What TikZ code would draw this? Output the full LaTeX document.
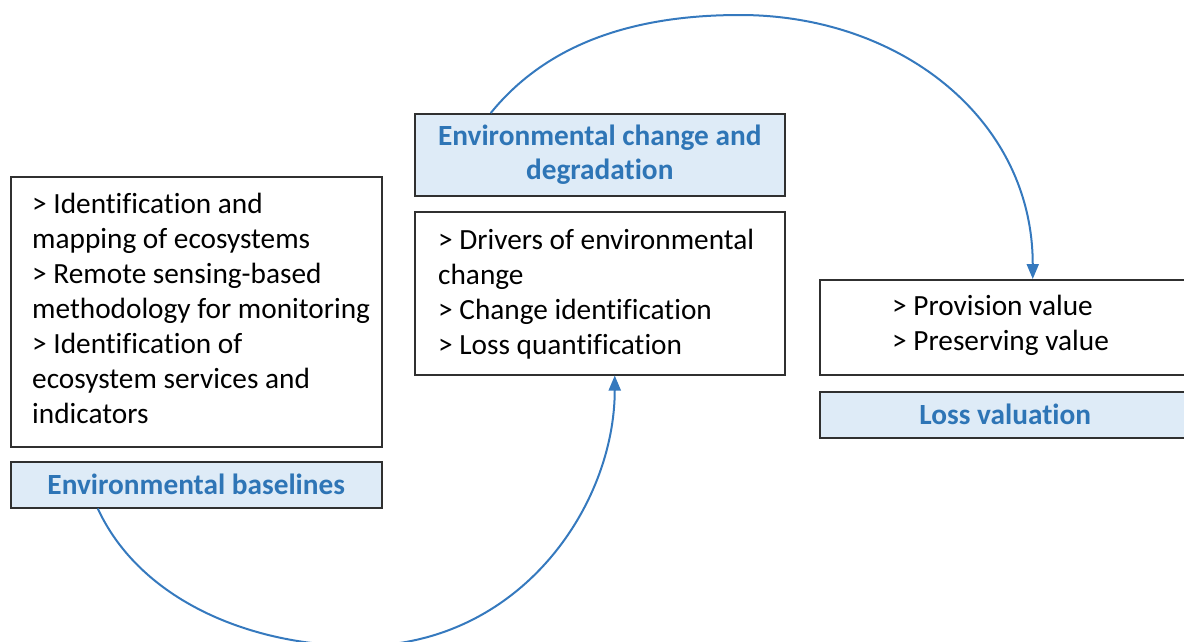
\documentclass[tikz,border=0pt]{standalone}
\usepackage{fontspec}
\setmainfont{Carlito}[Ligatures=NoCommon]
\usetikzlibrary{arrows.meta,calc}
\definecolor{hdrblue}{HTML}{2E75B6}
\definecolor{hdrfill}{HTML}{DEEBF7}
\definecolor{arcblue}{HTML}{3579BE}
\definecolor{edge}{HTML}{303030}
\begin{document}
\begin{tikzpicture}[x=1pt,y=-1pt,
  box/.style={draw=edge,line width=1.5pt,fill=white,anchor=north west,inner sep=0pt},
  hdr/.style={draw=edge,line width=1.5pt,fill=hdrfill,anchor=north west,inner sep=0pt,
    text=hdrblue,font=\fontsize{29.3}{34}\selectfont\bfseries,align=center},
  body/.style={anchor=north west,inner sep=0pt,align=left,font=\fontsize{29.3}{35}\selectfont},
  arc/.style={draw=arcblue,line width=2pt,-{Triangle[length=15pt,width=12pt]}}]
\useasboundingbox (0,0) rectangle (1184,641);
% boxes
\node[box,minimum width=371pt,minimum height=270pt] (lbox) at (10,176) {};
\node[hdr,minimum width=371pt,minimum height=46pt] (eb) at (10,461) {Environmental baselines};
\node[hdr,minimum width=370pt,minimum height=82pt] (mhead) at (414,113) {Environmental change and\\degradation};
\node[box,minimum width=370pt,minimum height=163pt] (mbox) at (414,211) {};
\node[box,minimum width=371pt,minimum height=95pt] (rbox) at (819,279) {};
\node[hdr,minimum width=371pt,minimum height=46pt] (lv) at (819,391) {Loss valuation};
% texts
\node[body] (ltext) at (32,193) {> Identification and\\mapping of ecosystems\\> Remote sensing-based\\methodology for monitoring\\> Identification of\\ecosystem services and\\indicators};
\node[body] (mtext) at (438,229) {> Drivers of environmental\\change\\> Change identification\\> Loss quantification};
\node[body] (rtext) at (892,295) {> Provision value\\> Preserving value};
% arcs
\draw[arc] ([xshift=-98.5pt]eb.south) .. controls (140,600) and (250,646) .. (360,646)
  .. controls (520,646) and ([xshift=15pt,yshift=-130pt]mbox.south) .. ([xshift=15pt]mbox.south);
\draw[arc] ([xshift=-109pt]mhead.north) .. controls (550,40) and (640,15) .. (740,15)
  .. controls (900,15) and ([xshift=27.5pt,yshift=160pt]rbox.north) .. ([xshift=27.5pt]rbox.north);
\end{tikzpicture}
\end{document}
